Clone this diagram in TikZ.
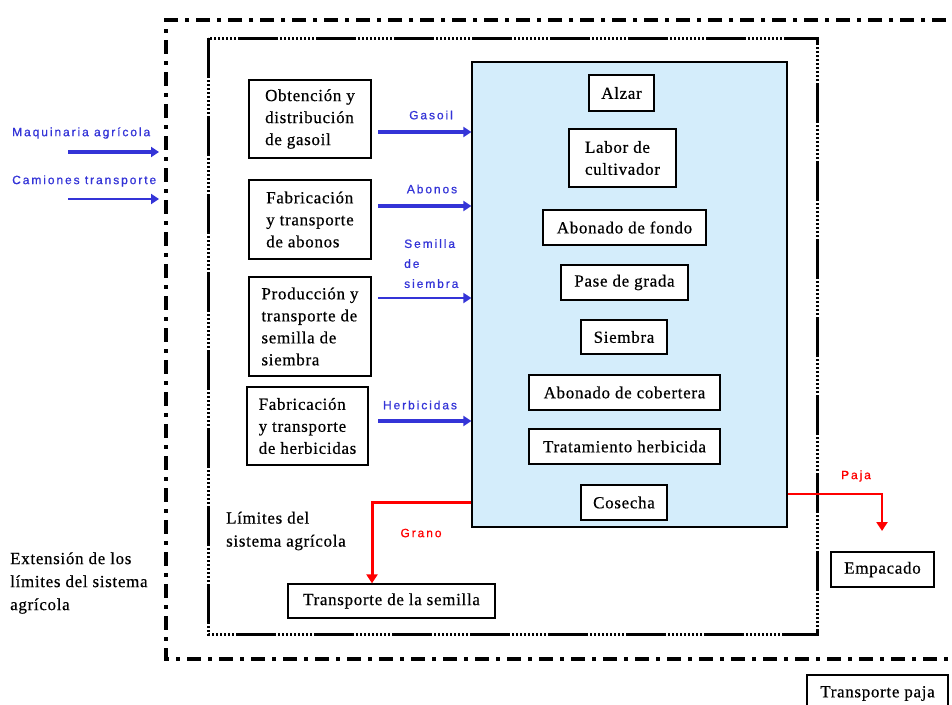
\documentclass[tikz,border=0pt]{standalone}
\usepackage{fontspec}
\setmainfont{Liberation Serif}[LetterSpace=4,FakeBold=0.5]
\newfontfamily\labelfont[LetterSpace=16,FakeBold=0.8]{Liberation Sans}
\usetikzlibrary{arrows.meta}
\definecolor{flowblue}{RGB}{52,52,215}
\definecolor{flowred}{RGB}{255,0,0}
\definecolor{stagefill}{RGB}{212,237,251}
\begin{document}
\begin{tikzpicture}[x=1pt,y=-1pt,
  box/.style={draw=black,line width=1.3pt,fill=white,inner sep=0pt,align=left,
    font=\fontsize{17}{22}\selectfont},
  txt/.style={inner sep=0pt,align=left,font=\fontsize{17}{23}\selectfont},
  lbl/.style={inner sep=0pt,font=\labelfont\fontsize{12}{20}\selectfont},
  inflow/.style={draw=flowblue,line width=3.2pt,-{Triangle[length=8pt,width=10pt]}},
  inflowthin/.style={draw=flowblue,line width=1.8pt,-{Triangle[length=8pt,width=10pt]}},
  outflow/.style={draw=flowred,-{Triangle[length=9pt,width=11pt]}},
  outerlimit/.style={line width=4pt,dash pattern=on 14pt off 7pt on 4pt off 7pt},
  innerlimit/.style={line width=3pt,dash pattern=on 40pt off 2pt on 2pt off 2pt on 2pt off 2pt on 2pt off 2pt on 2pt off 2pt on 2pt off 2pt on 2pt off 2pt on 2pt off 2pt on 2pt off 2pt on 2pt off 2pt},
]
\useasboundingbox (0,0) rectangle (952,704);

% system limits
\draw[outerlimit] (1010,20) -- (166,20) -- (166,659) -- (1010,659);
\draw[innerlimit] (208,38) rectangle (817,634);

% field operations
\node[draw=black,line width=1.3pt,fill=stagefill,minimum width=315pt,minimum height=465pt,inner sep=0pt] (stages) at (629.5,294.5) {};
\node[box,minimum width=65pt,minimum height=36pt,align=center] (alzar) at (621.5,93) {Alzar};
\node[box,minimum width=107pt,minimum height=58pt] (labor) at (622.5,158) {Labor de\\cultivador};
\node[box,minimum width=163pt,minimum height=35pt,align=center] (abfondo) at (624.5,227.5) {Abonado de fondo};
\node[box,minimum width=127pt,minimum height=35pt,align=center] (pase) at (624.5,282.5) {Pase de grada};
\node[box,minimum width=86pt,minimum height=34pt,align=center] (siembra) at (624,337) {Siembra};
\node[box,minimum width=191pt,minimum height=35pt,align=center] (abcob) at (624.5,392.5) {Abonado de cobertera};
\node[box,minimum width=191pt,minimum height=35pt,align=center] (trat) at (624.5,446.5) {Tratamiento herbicida};
\node[box,minimum width=86pt,minimum height=35pt,align=center] (cosecha) at (624,502.5) {Cosecha};

% upstream processes
\node[box,minimum width=122pt,minimum height=78pt] (gasoil) at (310,119) {Obtención y\\distribución\\de gasoil};
\node[box,minimum width=122pt,minimum height=79pt] (abonos) at (310,219.5) {Fabricación\\y transporte\\de abonos};
\node[box,minimum width=122pt,minimum height=99pt] (semilla) at (310,326.5) {Producción y\\transporte de\\semilla de\\siembra};
\node[box,minimum width=121pt,minimum height=78pt] (herbic) at (307.5,426) {Fabricación\\y transporte\\de herbicidas};

% downstream processes
\node[box,minimum width=207pt,minimum height=34pt,align=center] (tsemilla) at (391.5,601) {Transporte de la semilla};
\node[box,minimum width=103pt,minimum height=35pt,align=center] (empacado) at (882.5,569.5) {Empacado};
\node[box,minimum width=141pt,minimum height=37pt,align=center] (tpaja) at (877.5,693.5) {Transporte paja};

% limit captions
\node[txt,anchor=west] (limint) at (226,531) {Límites del\\sistema agrícola};
\node[txt,anchor=west] (limext) at (10,583) {Extensión de los\\límites del sistema\\agrícola};

% inputs into the field
\coordinate (g0) at (378,132);
\coordinate (a0) at (378,206);
\coordinate (s0) at (378,298);
\coordinate (h0) at (378,421);
\draw[inflow] (g0) -- (g0 -| stages.west);
\draw[inflow] (a0) -- (a0 -| stages.west);
\draw[inflowthin] (s0) -- (s0 -| stages.west);
\draw[inflow] (h0) -- (h0 -| stages.west);
\node[lbl,text=flowblue] (lgas) at (431,115) {Gasoil};
\node[lbl,text=flowblue] (labo) at (432,189) {Abonos};
\node[lbl,text=flowblue,align=left,anchor=north west] (lsem) at (404,239) {Semilla\\de\\siembra};
\node[lbl,text=flowblue] (lher) at (420,405) {Herbicidas};

% inputs across the extended limit
\coordinate (m0) at (68,152);
\coordinate (m1) at (159,152);
\coordinate (c0) at (68,199);
\coordinate (c1) at (159,199);
\draw[inflow] (m0) -- (m1);
\draw[inflowthin] (c0) -- (c1);
\node[lbl,text=flowblue,anchor=west] (lmaq) at (12,133) {Maquinaria agrícola};
\node[lbl,text=flowblue,anchor=west] (lcam) at (12,181) {Camiones transporte};

% outputs
\coordinate (gr) at (372,502);
\draw[outflow,line width=3pt] (gr -| stages.west) -- (gr) -- (gr |- tsemilla.north);
\node[lbl,text=flowred] (lgrano) at (421,533) {Grano};
\coordinate (pj) at (882,494);
\coordinate (pjend) at (882,531);
\draw[outflow,line width=2.4pt] (pj -| stages.east) -- (pj) -- (pjend);
\node[lbl,text=flowred] (lpaja) at (856,476) {Paja};
\end{tikzpicture}
\end{document}
